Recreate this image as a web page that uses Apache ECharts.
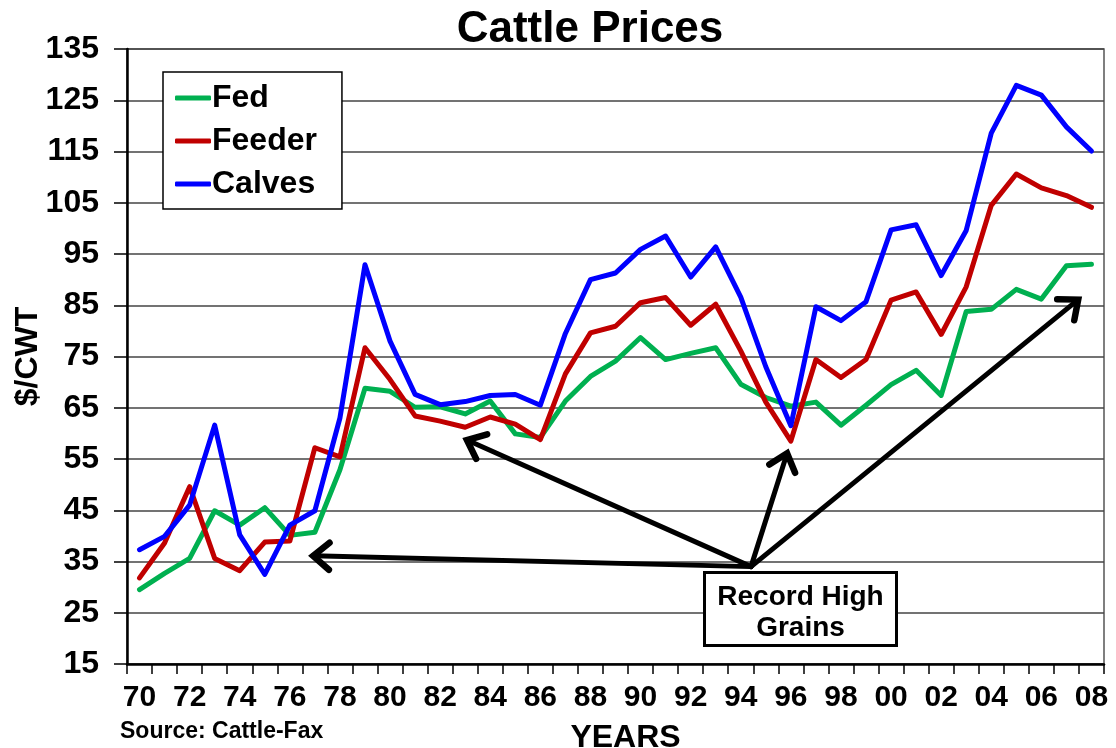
<!DOCTYPE html>
<html>
<head>
<meta charset="utf-8">
<script src="https://cdn.jsdelivr.net/npm/echarts@6/dist/echarts.min.js"></script>
<style>
  html, body { margin: 0; padding: 0; background: #fff; }
  #main { width: 1116px; height: 748px; }
</style>
</head>
<body>
<div id="main"></div>
<script>
// years 1970 - 2008
var years = ['70','71','72','73','74','75','76','77','78','79',
             '80','81','82','83','84','85','86','87','88','89',
             '90','91','92','93','94','95','96','97','98','99',
             '00','01','02','03','04','05','06','07','08'];

var fed = [29.5, 32.7, 35.6, 44.9, 42.1, 45.5, 40.1, 40.7, 52.9, 68.8,
           68.2, 65.1, 65.2, 63.8, 66.3, 59.9, 59.2, 66.3, 71.1, 74.1,
           78.7, 74.4, 75.6, 76.7, 69.6, 67.0, 65.3, 66.1, 61.6, 65.5,
           69.5, 72.3, 67.4, 83.8, 84.2, 88.1, 86.2, 92.7, 93.0];

var feeder = [31.8, 38.6, 49.6, 35.6, 33.2, 38.8, 39.0, 57.2, 55.4, 76.7,
              70.5, 63.4, 62.4, 61.2, 63.2, 61.8, 58.8, 71.6, 79.6, 80.9,
              85.5, 86.5, 81.1, 85.2, 76.1, 66.1, 58.5, 74.4, 70.9, 74.4,
              86.0, 87.6, 79.3, 88.6, 104.5, 110.6, 107.9, 106.4, 104.1];

var calves = [37.3, 39.9, 46.0, 61.6, 40.2, 32.5, 42.1, 44.9, 63.0, 92.9,
              78.0, 67.6, 65.6, 66.2, 67.4, 67.6, 65.5, 79.5, 90.0, 91.3,
              95.9, 98.5, 90.5, 96.4, 86.6, 73.0, 61.5, 84.7, 82.0, 85.7,
              99.7, 100.7, 90.8, 99.6, 118.6, 127.9, 126.0, 119.8, 115.1];

// arrows for "Record High Grains" (category index, $/CWT)
var arrowFrom = [24.41, 34.0];
var arrowTips = [[6.93, 36.1], [13.07, 58.7], [25.85, 56.1], [37.47, 86.1]];

var font = '"Liberation Sans", Arial, sans-serif';

var myChart = echarts.init(document.getElementById('main'));

function lineSeries(name, data, color) {
    return {
        name: name,
        type: 'line',
        data: data,
        symbol: 'none',
        smooth: false,
        lineStyle: { color: color, width: 5, join: 'round', cap: 'round' },
        itemStyle: { color: color }
    };
}

var option = {
    backgroundColor: '#fff',
    animation: false,
    title: {
        text: 'Cattle Prices',
        left: 585,
        top: 3,
        textAlign: 'center',
        textStyle: { fontFamily: font, fontSize: 44, fontWeight: 'bold', color: '#000' }
    },
    legend: {
        orient: 'vertical',
        left: 163,
        top: 72,
        padding: [10, 25, 9, 12],
        itemGap: 11,
        itemWidth: 36,
        itemHeight: 5,
        icon: 'roundRect',
        backgroundColor: '#fff',
        borderColor: '#000',
        borderWidth: 1.5,
        textStyle: { fontFamily: font, fontSize: 32, fontWeight: 'bold', color: '#000', padding: [0, 0, 0, -4] },
        data: ['Fed', 'Feeder', 'Calves']
    },
    grid: {
        left: 127,
        right: 12,
        top: 49,
        bottom: 84,
        containLabel: false,
        outerBoundsMode: 'none',
        show: true,
        borderColor: '#555',
        borderWidth: 1.5
    },
    xAxis: {
        type: 'category',
        data: years,
        boundaryGap: true,
        name: 'YEARS',
        nameLocation: 'middle',
        nameGap: 58,
        nameMoveOverlap: false,
        nameTextStyle: { fontFamily: font, fontSize: 32, fontWeight: 'bold', color: '#000', padding: [0, 0, 0, 20] },
        axisLine: { lineStyle: { color: '#000', width: 2.5 } },
        axisTick: { show: true, interval: 0, length: 10, lineStyle: { color: '#000', width: 1.5 } },
        axisLabel: {
            interval: 1,
            margin: 19,
            fontFamily: font,
            fontSize: 30,
            fontWeight: 'bold',
            color: '#000'
        },
        splitLine: { show: false }
    },
    yAxis: {
        type: 'value',
        min: 15,
        max: 135,
        interval: 10,
        name: '$/CWT',
        nameLocation: 'middle',
        nameRotate: 90,
        nameGap: 83,
        nameMoveOverlap: false,
        nameTextStyle: { fontFamily: font, fontSize: 32, fontWeight: 'bold', color: '#000' },
        axisLine: { show: true, lineStyle: { color: '#000', width: 2.5 } },
        axisTick: { show: true, inside: false, length: 13, lineStyle: { color: '#000', width: 1.5 } },
        axisLabel: {
            margin: 28,
            fontFamily: font,
            fontSize: 32,
            fontWeight: 'bold',
            color: '#000'
        },
        splitLine: { show: true, lineStyle: { color: '#444', width: 1.5 } }
    },
    series: [
        lineSeries('Fed', fed, '#00b050'),
        lineSeries('Feeder', feeder, '#c00000'),
        lineSeries('Calves', calves, '#0000ff')
    ]
};

myChart.setOption(option);

// 类目轴上小数位置也要能换算成像素
function toPx(pt) {
    var p0 = myChart.convertToPixel({ gridIndex: 0 }, [0, pt[1]]);
    var p1 = myChart.convertToPixel({ gridIndex: 0 }, [years.length - 1, pt[1]]);
    var x = p0[0] + (p1[0] - p0[0]) * pt[0] / (years.length - 1);
    return [x, p0[1]];
}

var graphics = [];
var o = toPx(arrowFrom);
arrowTips.forEach(function (t) {
    var p = toPx(t);
    var dx = p[0] - o[0], dy = p[1] - o[1];
    var len = Math.sqrt(dx * dx + dy * dy);
    var ux = dx / len, uy = dy / len;
    var L = 21, a = 40 * Math.PI / 180;
    var c = Math.cos(a), s = Math.sin(a);
    var h1 = [p[0] - L * (ux * c - uy * s), p[1] - L * (uy * c + ux * s)];
    var h2 = [p[0] - L * (ux * c + uy * s), p[1] - L * (uy * c - ux * s)];
    graphics.push({
        type: 'line',
        shape: { x1: o[0], y1: o[1], x2: p[0], y2: p[1] },
        style: { stroke: '#000', lineWidth: 5, lineCap: 'round' },
        z: 20
    });
    graphics.push({
        type: 'polyline',
        shape: { points: [h1, p, h2] },
        style: { stroke: '#000', lineWidth: 6.5, lineCap: 'round', lineJoin: 'miter', fill: null },
        z: 20
    });
});

// 注释框
graphics.push({
    type: 'group',
    left: 703,
    top: 571,
    z: 30,
    children: [
        {
            type: 'rect',
            shape: { x: 0, y: 0, width: 192, height: 73 },
            style: { fill: '#fff', stroke: '#000', lineWidth: 3 }
        },
        {
            type: 'text',
            x: 96, y: 25,
            style: { text: 'Record High', fill: '#000', font: 'bold 28px ' + font, align: 'center', verticalAlign: 'middle' }
        },
        {
            type: 'text',
            x: 96, y: 56,
            style: { text: 'Grains', fill: '#000', font: 'bold 28px ' + font, align: 'center', verticalAlign: 'middle' }
        }
    ]
});

graphics.push({
    type: 'text',
    left: 120,
    top: 720,
    z: 30,
    style: { text: 'Source: Cattle-Fax', fill: '#000', font: 'bold 23px ' + font }
});

myChart.setOption({ graphic: graphics });
</script>
</body>
</html>
